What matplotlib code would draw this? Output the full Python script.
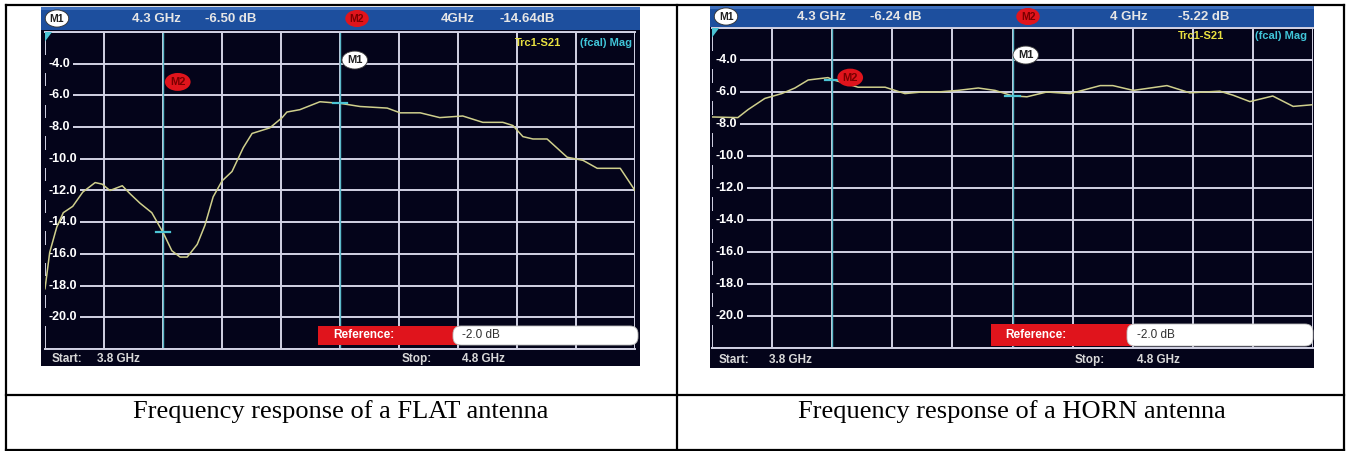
import matplotlib
matplotlib.use("Agg")
import matplotlib.pyplot as plt
from matplotlib.patches import Rectangle, FancyBboxPatch, Polygon
import matplotlib.transforms as mtransforms

# ---------------- data ----------------
freq_start = 3.8
freq_stop = 4.8
ref_level = -2.0
bottom_level = -22.0

flat_freq = [3.800, 3.808, 3.820, 3.831, 3.847, 3.864, 3.885, 3.897, 3.910, 3.931,
             3.944, 3.961, 3.981, 4.000, 4.015, 4.029, 4.041, 4.058, 4.071, 4.085,
             4.100, 4.117, 4.136, 4.151, 4.181, 4.202, 4.210, 4.232, 4.266, 4.300,
             4.334, 4.380, 4.402, 4.436, 4.469, 4.508, 4.542, 4.576, 4.593, 4.610,
             4.627, 4.651, 4.685, 4.712, 4.736, 4.775, 4.800]
flat_gain = [-18.2, -15.9, -14.3, -13.4, -13.0, -12.1, -11.5, -11.6, -12.0, -11.7,
             -12.2, -12.8, -13.4, -14.64, -15.8, -16.2, -16.2, -15.4, -14.2, -12.4,
             -11.4, -10.8, -9.3, -8.4, -8.05, -7.4, -7.05, -6.9, -6.4, -6.50,
             -6.7, -6.8, -7.1, -7.1, -7.4, -7.3, -7.7, -7.7, -7.9, -8.6,
             -8.75, -8.75, -9.9, -10.1, -10.6, -10.6, -12.0]

horn_freq = [3.800, 3.843, 3.860, 3.888, 3.916, 3.938, 3.960, 3.993, 4.000, 4.043,
             4.088, 4.121, 4.149, 4.176, 4.209, 4.243, 4.271, 4.300, 4.324, 4.357,
             4.396, 4.446, 4.467, 4.501, 4.557, 4.595, 4.645, 4.667, 4.695, 4.733,
             4.767, 4.798]
horn_gain = [-7.56, -7.6, -7.1, -6.4, -6.1, -5.75, -5.25, -5.1, -5.22, -5.7,
             -5.7, -6.1, -6.0, -6.0, -5.9, -5.75, -5.9, -6.24, -6.3, -6.0,
             -6.1, -5.6, -5.6, -5.9, -5.6, -6.05, -5.95, -6.2, -6.6, -6.25,
             -6.9, -6.8]

marker_names = ["M1", "M2"]
flat_m_freq = [4.3, 4.0]
flat_m_gain = [-6.50, -14.64]
horn_m_freq = [4.3, 4.0]
horn_m_gain = [-6.24, -5.22]

flat_header = ["4.3 GHz", "-6.50 dB", "4GHz", "-14.64dB"]
horn_header = ["4.3 GHz", "-6.24 dB", "4 GHz", "-5.22 dB"]

y_tick_values = [-4, -6, -8, -10, -12, -14, -16, -18, -20]
y_tick_labels = ["-4.0", "-6.0", "-8.0", "-10.0", "-12.0", "-14.0", "-16.0", "-18.0", "-20.0"]
x_grid_values = [3.8, 3.9, 4.0, 4.1, 4.2, 4.3, 4.4, 4.5, 4.6, 4.7, 4.8]
y_grid_values = [-2, -4, -6, -8, -10, -12, -14, -16, -18, -20, -22]

start_text = ["Start:", "3.8 GHz"]
stop_text = ["Stop:", "4.8 GHz"]
ref_text = ["Reference:", "-2.0 dB"]
trace_name = ["Trc1-S21", "(fcal) Mag"]

captions = ["Frequency response of a FLAT antenna",
            "Frequency response of a HORN antenna"]

# ---------------- style ----------------
W, H, DPI = 1348, 451, 100
BG = "#04041a"
HEAD = "#1d4f9e"
GRID = "#d2d2e4"
TRACE = "#cfcf8c"
CYAN = "#4cc4d4"
RED = "#e0141c"
SCREEN_FONT = "Liberation Sans"

fig = plt.figure(figsize=(W / DPI, H / DPI), dpi=DPI)
fig.patch.set_facecolor("white")

bg = fig.add_axes([0, 0, 1, 1])
bg.set_xlim(0, W)
bg.set_ylim(H, 0)
bg.axis("off")

# table lines
for (x0, y0, x1, y1) in [(6, 5, 1344, 5), (6, 450, 1344, 450), (6, 5, 6, 450),
                         (1344, 5, 1344, 450), (677, 5, 677, 450), (6, 395, 1344, 395)]:
    bg.plot([x0, x1], [y0, y1], color="black", lw=1.6, solid_capstyle="projecting", zorder=1)


def frac(x0, y0, x1, y1):
    return [x0 / W, 1 - y1 / H, (x1 - x0) / W, (y1 - y0) / H]


panels = [
    dict(shot=(41, 7, 640, 366), head=(7, 30), plot=(45, 32, 635, 349),
         freq=flat_freq, gain=flat_gain, mf=flat_m_freq, mg=flat_m_gain,
         header=flat_header, header_x=[57, 156, 231, 357, 458, 527],
         trc=(515, 632, 43), status_x=[52, 97, 402, 462], status_y=359,
         ref=(318, 453, 638, 326, 345), ref_tx=(333, 462),
         label_pos=[(4.325, -3.77), (4.025, -5.15)], caption_x=341),
    dict(shot=(710, 6, 1314, 368), head=(6, 27), plot=(712, 28, 1313, 348),
         freq=horn_freq, gain=horn_gain, mf=horn_m_freq, mg=horn_m_gain,
         header=horn_header, header_x=[726, 821, 896, 1028, 1129, 1204],
         trc=(1178, 1307, 36), status_x=[719, 769, 1075, 1137], status_y=360,
         ref=(991, 1127, 1313, 324, 346), ref_tx=(1005, 1137),
         label_pos=[(4.322, -3.69), (4.03, -5.1)], caption_x=1012),
]

for idx, p in enumerate(panels):
    sx0, sy0, sx1, sy1 = p["shot"]
    # screenshot background
    bg.add_patch(Rectangle((sx0, sy0), sx1 - sx0, sy1 - sy0, fc=BG, ec="none", zorder=2))
    hy0, hy1 = p["head"]
    bg.add_patch(Rectangle((sx0, hy0), sx1 - sx0, hy1 - hy0, fc=HEAD, ec="none", zorder=3))
    bg.add_patch(Rectangle((sx0, hy0), sx1 - sx0, 3, fc="#3f70bd", ec="none", zorder=3))

    # plot axes
    px0, py0, px1, py1 = p["plot"]
    ax = fig.add_axes(frac(px0, py0, px1, py1))
    ax.set_facecolor(BG)
    ax.set_xlim(freq_start, freq_stop)
    ax.set_ylim(bottom_level, ref_level)
    ax.set_xticks(x_grid_values)
    ax.set_yticks(y_grid_values)
    ax.tick_params(length=0, labelbottom=False, labelleft=False)
    ax.grid(True, color=GRID, lw=1.4)
    ax.set_axisbelow(True)
    for s in ["left", "right"]:
        ax.spines[s].set_visible(False)
    for s in ["top", "bottom"]:
        ax.spines[s].set_color(GRID)
        ax.spines[s].set_linewidth(1.4)

    # y labels inside the plot
    tr = mtransforms.blended_transform_factory(ax.transAxes, ax.transData)
    for v, lab in zip(y_tick_values, y_tick_labels):
        ax.text(0.006, v, lab, transform=tr, ha="left", va="center", color="white",
                fontsize=9, fontweight="bold", family=SCREEN_FONT, zorder=3,
                bbox=dict(boxstyle="square,pad=0.25", fc=BG, ec="none"))

    # marker lines
    for f in p["mf"]:
        ax.axvline(f, color="#5ab8c8", lw=1.0, zorder=2)

    # trace
    ax.plot(p["freq"], p["gain"], color=TRACE, lw=1.1, zorder=4)

    # marker ticks
    for f, g in zip(p["mf"], p["mg"]):
        ax.plot([f - 0.012, f + 0.012], [g, g], color=CYAN, lw=1.6, zorder=5)

    # marker labels
    for name, (lx, ly) in zip(marker_names, p["label_pos"]):
        if name == "M1":
            ax.text(lx, ly, name, ha="center", va="center", fontsize=8, fontweight="bold",
                    color="#202020", family=SCREEN_FONT, zorder=6,
                    bbox=dict(boxstyle="ellipse,pad=0.12", fc="white", ec="#404040", lw=0.6))
        else:
            ax.text(lx, ly, name, ha="center", va="center", fontsize=8, fontweight="bold",
                    color="#7a0000", family=SCREEN_FONT, zorder=6,
                    bbox=dict(boxstyle="ellipse,pad=0.12", fc=RED, ec="none"))

    # reference triangle
    ax.add_patch(Polygon([[0, 1], [0.012, 1], [0, 0.97]], closed=True,
                         transform=ax.transAxes, fc=CYAN, ec="none", zorder=6,
                         clip_on=False))

    # overlay for header / status / reference
    ov = fig.add_axes([0, 0, 1, 1])
    ov.set_xlim(0, W)
    ov.set_ylim(H, 0)
    ov.axis("off")
    ov.patch.set_alpha(0)

    hyc = (hy0 + hy1) / 2
    hx = p["header_x"]
    ov.text(hx[0], hyc, "M1", ha="center", va="center", fontsize=7.5, fontweight="bold",
            color="#202020", family=SCREEN_FONT,
            bbox=dict(boxstyle="ellipse,pad=0.1", fc="white", ec="#303030", lw=0.6))
    ov.text(hx[1], hyc, p["header"][0], ha="center", va="center", fontsize=9.5,
            fontweight="bold", color="#e6e6e6", family=SCREEN_FONT)
    ov.text(hx[2], hyc, p["header"][1], ha="center", va="center", fontsize=9.5,
            fontweight="bold", color="#e6e6e6", family=SCREEN_FONT)
    ov.text(hx[3], hyc, "M2", ha="center", va="center", fontsize=7.5, fontweight="bold",
            color="#7a0000", family=SCREEN_FONT,
            bbox=dict(boxstyle="ellipse,pad=0.1", fc=RED, ec="none"))
    ov.text(hx[4], hyc, p["header"][2], ha="center", va="center", fontsize=9.5,
            fontweight="bold", color="#e6e6e6", family=SCREEN_FONT)
    ov.text(hx[5], hyc, p["header"][3], ha="center", va="center", fontsize=9.5,
            fontweight="bold", color="#e6e6e6", family=SCREEN_FONT)

    # trace name
    tx0, tx1, ty = p["trc"]
    ov.text(tx0, ty, trace_name[0], ha="left", va="center", fontsize=8,
            fontweight="bold", color="#e8e040", family=SCREEN_FONT)
    ov.text(tx1, ty, trace_name[1], ha="right", va="center", fontsize=8,
            fontweight="bold", color="#40c4d8", family=SCREEN_FONT)

    # reference bar
    rx0, rx1, rx2, ry0, ry1 = p["ref"]
    ov.add_patch(Rectangle((rx0, ry0), rx1 - rx0 + 6, ry1 - ry0, fc=RED, ec="none"))
    ov.add_patch(FancyBboxPatch((rx1 + 4, ry0 + 4), rx2 - rx1 - 8, ry1 - ry0 - 8,
                                boxstyle="round,pad=4,rounding_size=8",
                                fc="white", ec="#bbbbbb", lw=0.6))
    ryc = (ry0 + ry1) / 2
    ov.text(p["ref_tx"][0], ryc, ref_text[0], ha="left", va="center", fontsize=8.5,
            color="white", family=SCREEN_FONT, fontweight="bold")
    ov.text(p["ref_tx"][1], ryc, ref_text[1], ha="left", va="center", fontsize=8.5,
            color="#303030", family=SCREEN_FONT)

    # status line
    sx = p["status_x"]
    sy = p["status_y"]
    for x, t in zip(sx, start_text + stop_text):
        ov.text(x, sy, t, ha="left", va="center", fontsize=8.5, color="#d8d8d8",
                family=SCREEN_FONT, fontweight="bold")

    # caption
    ov.text(p["caption_x"], 412, captions[idx], ha="center", va="center",
            fontsize=19, family="Liberation Serif", color="black")

fig.savefig("out.png", dpi=DPI, facecolor="white")
